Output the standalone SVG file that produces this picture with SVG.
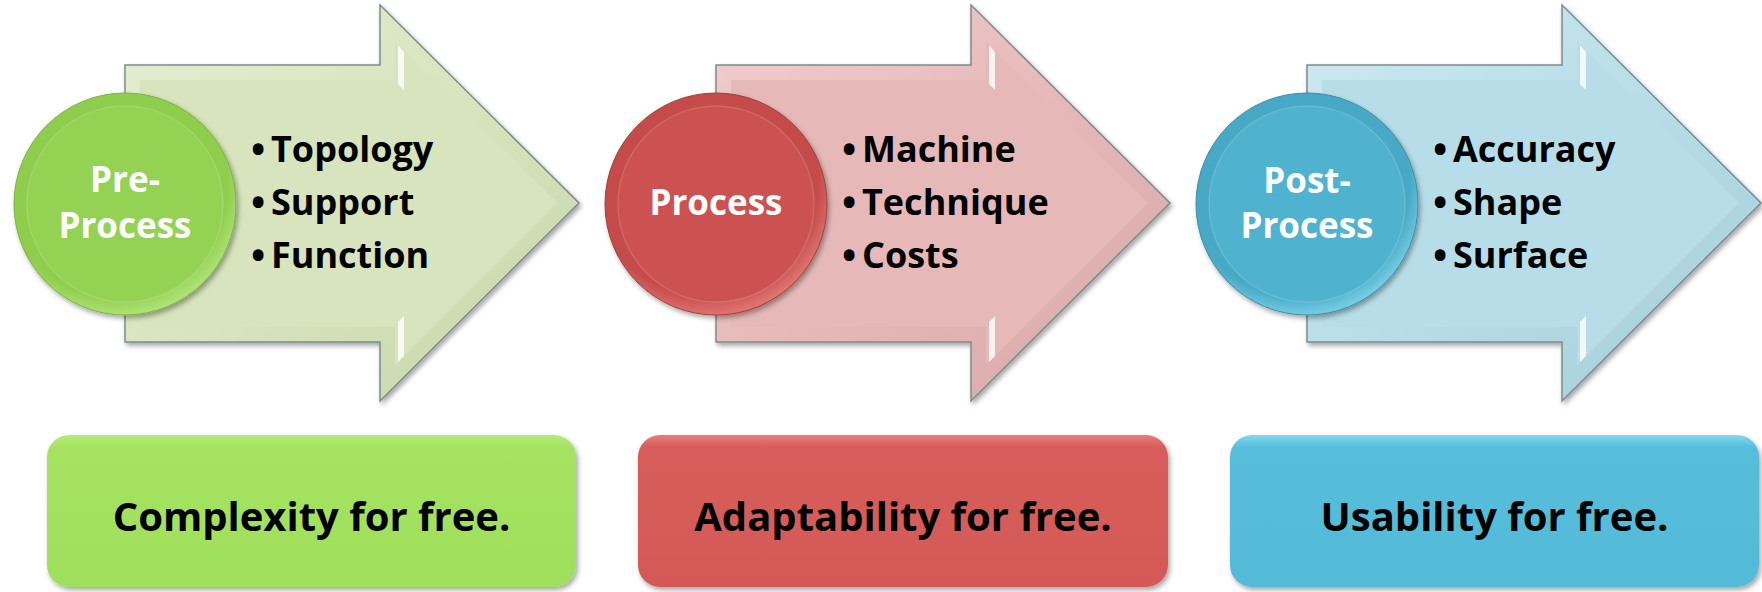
<svg xmlns="http://www.w3.org/2000/svg" xmlns:xlink="http://www.w3.org/1999/xlink" width="1762" height="592" viewBox="0 0 1762 592">
<style>
  text { font-family: "Open Sans", "Liberation Sans", sans-serif; font-weight: bold; }
  .circ-label { font-size: 35px; fill: #ffffff; text-anchor: middle; }
  .bullet { font-size: 36px; fill: #000000; }
  .dot { font-size: 38px; }
  .box-label { font-size: 40px; fill: #000000; text-anchor: middle; }
  .arrow-outline { stroke: #7d8a90; stroke-width: 1.5; }
  .inner-edge { fill: none; stroke: #ffffff; stroke-opacity: 0.15; stroke-width: 1.5; }
  .hl { fill: #ffffff; opacity: 0.8; }
</style>
<defs>
  <filter id="shadow" x="-10%" y="-10%" width="125%" height="125%">
    <feDropShadow dx="2" dy="3" stdDeviation="2.5" flood-color="#000000" flood-opacity="0.35"/>
  </filter>
  <path id="arrowOuter" d="M125,65 H380 V5 L579,203 L380,401 V342 H125 Z"/>
  <path id="arrowInner" d="M140,80 H395 V41 L557,203 L395,365 V327 H140 Z"/>
  <linearGradient id="gBevelG" x1="0" y1="0" x2="1" y2="1">
    <stop offset="0" stop-color="#e4eed3"/><stop offset="0.5" stop-color="#d7e4bd"/><stop offset="1" stop-color="#c6d5aa"/>
  </linearGradient>
  <linearGradient id="gBevelR" x1="0" y1="0" x2="1" y2="1">
    <stop offset="0" stop-color="#efcfce"/><stop offset="0.5" stop-color="#e6b9b8"/><stop offset="1" stop-color="#d6a7a6"/>
  </linearGradient>
  <linearGradient id="gBevelB" x1="0" y1="0" x2="1" y2="1">
    <stop offset="0" stop-color="#cde9f0"/><stop offset="0.5" stop-color="#b7dee8"/><stop offset="1" stop-color="#a4ccd7"/>
  </linearGradient>
  <radialGradient id="rimG" cx="0.45" cy="0.4" r="0.6">
    <stop offset="0.85" stop-color="#8fcd4d"/><stop offset="1" stop-color="#aee274"/>
  </radialGradient>
  <radialGradient id="rimR" cx="0.45" cy="0.4" r="0.6">
    <stop offset="0.85" stop-color="#c44c4a"/><stop offset="1" stop-color="#df7370"/>
  </radialGradient>
  <radialGradient id="rimB" cx="0.45" cy="0.4" r="0.6">
    <stop offset="0.85" stop-color="#47a9c5"/><stop offset="1" stop-color="#74cbe3"/>
  </radialGradient>
  <linearGradient id="boxG" x1="0" y1="0" x2="0" y2="1">
    <stop offset="0" stop-color="#b4ec78"/><stop offset="0.08" stop-color="#a5e361"/><stop offset="1" stop-color="#a0df5b"/>
  </linearGradient>
  <linearGradient id="boxR" x1="0" y1="0" x2="0" y2="1">
    <stop offset="0" stop-color="#ea7c7a"/><stop offset="0.08" stop-color="#d75d5b"/><stop offset="1" stop-color="#d45957"/>
  </linearGradient>
  <linearGradient id="boxB" x1="0" y1="0" x2="0" y2="1">
    <stop offset="0" stop-color="#80d8ef"/><stop offset="0.08" stop-color="#56bedb"/><stop offset="1" stop-color="#52bad7"/>
  </linearGradient>
</defs>

<g id="connectors"/>

<g id="stage-pre">
  <use xlink:href="#arrowOuter" href="#arrowOuter" class="arrow-outline" fill="url(#gBevelG)" filter="url(#shadow)"/>
  <use xlink:href="#arrowInner" href="#arrowInner" fill="#d7e4bd"/>
  <polygon class="hl" points="398,45 404,52 404,90 398,84"/>
  <polygon class="hl" points="398,322 404,316 404,356 398,362"/>
  <circle cx="125" cy="204" r="111" fill="url(#rimG)" stroke="#7bb540" stroke-width="1" filter="url(#shadow)"/>
  <circle cx="125" cy="204" r="98" fill="#93d253"/>
  <circle cx="125" cy="204" r="98" class="inner-edge"/>
  <text class="circ-label" x="125" y="192">Pre-</text>
  <text class="circ-label" x="125" y="238">Process</text>
  <text class="bullet"><tspan class="dot" x="251" y="163">•</tspan><tspan x="271" y="162">Topology</tspan></text>
  <text class="bullet"><tspan class="dot" x="251" y="216">•</tspan><tspan x="271" y="215">Support</tspan></text>
  <text class="bullet"><tspan class="dot" x="251" y="269">•</tspan><tspan x="271" y="268">Function</tspan></text>
</g>

<g id="stage-process">
  <g transform="translate(591,0)">
    <use xlink:href="#arrowOuter" href="#arrowOuter" class="arrow-outline" fill="url(#gBevelR)" filter="url(#shadow)"/>
    <use xlink:href="#arrowInner" href="#arrowInner" fill="#e6b9b8"/>
    <polygon class="hl" points="398,45 404,52 404,90 398,84"/>
    <polygon class="hl" points="398,322 404,316 404,356 398,362"/>
    <circle cx="125" cy="204" r="111" fill="url(#rimR)" stroke="#a63c3a" stroke-width="1" filter="url(#shadow)"/>
    <circle cx="125" cy="204" r="98" fill="#cb5250"/>
    <circle cx="125" cy="204" r="98" class="inner-edge"/>
    <text class="circ-label" x="125" y="215">Process</text>
    <text class="bullet"><tspan class="dot" x="251" y="163">•</tspan><tspan x="271" y="162">Machine</tspan></text>
    <text class="bullet"><tspan class="dot" x="251" y="216">•</tspan><tspan x="271" y="215">Technique</tspan></text>
    <text class="bullet"><tspan class="dot" x="251" y="269">•</tspan><tspan x="271" y="268">Costs</tspan></text>
  </g>
</g>

<g id="stage-post">
  <g transform="translate(1182,0)">
    <use xlink:href="#arrowOuter" href="#arrowOuter" class="arrow-outline" fill="url(#gBevelB)" filter="url(#shadow)"/>
    <use xlink:href="#arrowInner" href="#arrowInner" fill="#b7dee8"/>
    <polygon class="hl" points="398,45 404,52 404,90 398,84"/>
    <polygon class="hl" points="398,322 404,316 404,356 398,362"/>
    <circle cx="125" cy="204" r="111" fill="url(#rimB)" stroke="#3a8fa8" stroke-width="1" filter="url(#shadow)"/>
    <circle cx="125" cy="204" r="98" fill="#4fb3cf"/>
    <circle cx="125" cy="204" r="98" class="inner-edge"/>
    <text class="circ-label" x="125" y="193">Post-</text>
    <text class="circ-label" x="125" y="238">Process</text>
    <text class="bullet"><tspan class="dot" x="251" y="163">•</tspan><tspan x="271" y="162">Accuracy</tspan></text>
    <text class="bullet"><tspan class="dot" x="251" y="216">•</tspan><tspan x="271" y="215">Shape</tspan></text>
    <text class="bullet"><tspan class="dot" x="251" y="269">•</tspan><tspan x="271" y="268">Surface</tspan></text>
  </g>
</g>

<g id="box-complexity">
  <rect x="47" y="435" width="529" height="152" rx="22" fill="url(#boxG)" filter="url(#shadow)"/>
  <text class="box-label" x="311.5" y="531">Complexity for free.</text>
</g>

<g id="box-adaptability">
  <rect x="638" y="435" width="530" height="152" rx="22" fill="url(#boxR)" filter="url(#shadow)"/>
  <text class="box-label" x="903" y="531">Adaptability for free.</text>
</g>

<g id="box-usability">
  <rect x="1230" y="435" width="529" height="152" rx="22" fill="url(#boxB)" filter="url(#shadow)"/>
  <text class="box-label" x="1494.5" y="531">Usability for free.</text>
</g>
</svg>
